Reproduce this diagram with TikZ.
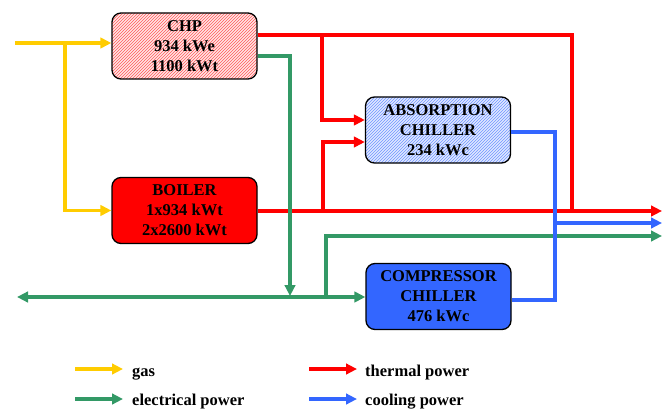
\documentclass[tikz,border=0pt]{standalone}
\usepackage{fontspec}
\setmainfont{Liberation Serif}
\usetikzlibrary{arrows.meta,patterns}
\definecolor{cgas}{HTML}{FFCC00}
\definecolor{cth}{HTML}{FF0000}
\definecolor{cel}{HTML}{339966}
\definecolor{ccool}{HTML}{3366FF}
\begin{document}
\begin{tikzpicture}[x=1pt,y=-1pt,
  box/.style={draw=black, line width=1.3pt, rounded corners=9pt,
    minimum width=145pt, minimum height=66pt, align=center, inner sep=0pt,
    font=\fontsize{16.5}{20}\selectfont\bfseries},
  flow/.style={line width=3.2pt},
  tip/.style={-{Triangle[length=11pt,width=10.5pt]}},
  dtip/.style={{Triangle[length=11pt,width=10.5pt]}-{Triangle[length=11pt,width=10.5pt]}},
  legtext/.style={anchor=base west, inner sep=0pt, font=\fontsize{16.5}{20}\selectfont\bfseries}]
\useasboundingbox (0,0) rectangle (668,409);

% boxes
\node[box, preaction={fill=red!10}, pattern=north east lines, pattern color=cth!65] (chp) at (184.5,46) {CHP\\934 kWe\\1100 kWt};
\node[box, preaction={fill=ccool!15}, pattern=north east lines, pattern color=ccool!70] (abs) at (438,130) {ABSORPTION\\CHILLER\\234 kWc};
\node[box, fill=cth] (boiler) at (184.5,210.5) {BOILER\\1x934 kWt\\2x2600 kWt};
\node[box, fill=ccool] (comp) at (438.5,296.5) {COMPRESSOR\\CHILLER\\476 kWc};

% helper coordinates
\coordinate (gin) at (15,43);
\coordinate (gj) at (65,43);
\coordinate (ry) at (0,35);
\coordinate (rc) at (572,35);
\coordinate (rb1) at (322,35);
\coordinate (ay1) at (0,120);
\coordinate (rb2) at (323,211);
\coordinate (ay2) at (0,142);
\coordinate (rout) at (662,211);
\coordinate (ey) at (0,56);
\coordinate (ej) at (290,296);
\coordinate (elout) at (17,297);
\coordinate (eb) at (326,297);
\coordinate (eout) at (662,236);
\coordinate (by1) at (0,132);
\coordinate (bv) at (555,300);
\coordinate (bb) at (555,223);
\coordinate (bout) at (662,223);

% gas
\draw[flow,cgas,tip] (gin) -- (chp.west |- gin);
\draw[flow,cgas,tip] (gj) |- (boiler.west);

% thermal
\draw[flow,cth] (chp.east |- ry) -- (rc) -- (rc |- rout);
\draw[flow,cth,tip] (boiler.east |- rout) -- (rout);
\draw[flow,cth,tip] (rb1) |- (abs.west |- ay1);
\draw[flow,cth,tip] (rb2) |- (abs.west |- ay2);

% electrical
\draw[flow,cel,tip] (chp.east |- ey) -| (ej);
\draw[flow,cel,dtip] (elout) -- (comp.west |- elout);
\draw[flow,cel,tip] (eb) |- (eout);

% cooling
\draw[flow,ccool] (abs.east |- by1) -| (bv) -- (comp.east |- bv);
\draw[flow,ccool,tip] (bb) -- (bout);

% legend
\node[legtext] (lgas) at (132,376) {gas};
\node[legtext] (lel) at (132,405) {electrical power};
\node[legtext] (lth) at (365,376) {thermal power};
\node[legtext] (lco) at (365,405) {cooling power};
\coordinate (lg0) at (75,369);
\coordinate (lg1) at (123,369);
\coordinate (le0) at (75,399);
\coordinate (le1) at (123,399);
\coordinate (lt0) at (309,369);
\coordinate (lt1) at (357,369);
\coordinate (lc0) at (309,399);
\coordinate (lc1) at (357,399);
\draw[flow,cgas,tip] (lg0) -- (lg1);
\draw[flow,cel,tip] (le0) -- (le1);
\draw[flow,cth,tip] (lt0) -- (lt1);
\draw[flow,ccool,tip] (lc0) -- (lc1);
\end{tikzpicture}
\end{document}
